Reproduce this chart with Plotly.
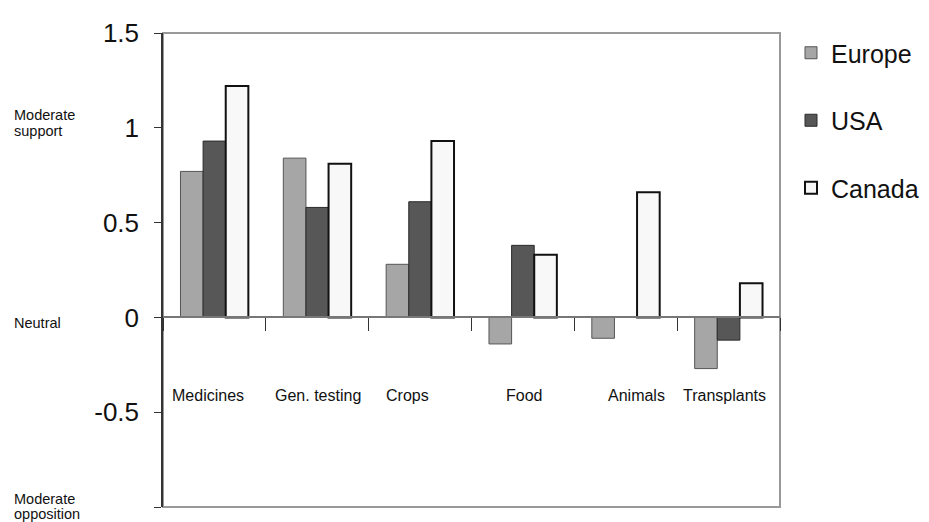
import plotly.graph_objects as go

categories = ["Medicines", "Gen. testing", "Crops", "Food", "Animals", "Transplants"]
europe = [0.77, 0.84, 0.28, -0.14, -0.11, -0.27]
usa = [0.93, 0.58, 0.61, 0.38, None, -0.12]
canada = [1.22, 0.81, 0.93, 0.33, 0.66, 0.18]
label_shift = [-6, 1, -13, 1, 11, -4]
ytick_vals = [-1, -0.5, 0, 0.5, 1, 1.5]
ytick_text = ["-1", "-0.5", "0", "0.5", "1", "1.5"]
side_text = ["Moderate", "support", "Neutral", "Moderate", "opposition"]
side_value = [1, 1, 0, -1, -1]
side_shift = [13, -3, -6, 8.5, -7]

FONT = "Liberation Sans, Arial, sans-serif"

fig = go.Figure()
fig.add_trace(go.Bar(name="Europe", x=categories, y=europe, legendgroup="e",
                     marker=dict(color="#a6a6a6", line=dict(color="#555555", width=1))))
fig.add_trace(go.Bar(name="USA", x=categories, y=usa, legendgroup="u",
                     marker=dict(color="#575757", line=dict(color="#2a2a2a", width=1))))
fig.add_trace(go.Bar(name="Canada", x=categories, y=canada, legendgroup="c",
                     marker=dict(color="#f8f8f8", line=dict(color="#111111", width=2))))

annotations = []
for cat, sh in zip(categories, label_shift):
    annotations.append(dict(x=cat, y=-0.41, xref="x", yref="y", text=cat, showarrow=False,
                            xshift=sh, font=dict(size=16, color="#111", family=FONT)))
for txt, v, sh in zip(side_text, side_value, side_shift):
    annotations.append(dict(x=(12 - 163) / 617, y=v, xref="paper", yref="y", text=txt,
                            showarrow=False, xanchor="left", align="left", yshift=sh,
                            font=dict(size=14.5, color="#111", family=FONT)))

fig.update_layout(
    width=929, height=522,
    margin=dict(l=163, r=149, t=33, b=15, autoexpand=False),
    paper_bgcolor="white", plot_bgcolor="white",
    barmode="group", bargap=0.34, bargroupgap=0,
    font=dict(family=FONT, color="#111"),
    showlegend=True,
    legend=dict(xref="container", yref="container", x=791 / 929, y=1 - 30 / 522,
                xanchor="left", yanchor="top",
                font=dict(size=25, family=FONT, color="#111"),
                tracegroupgap=32, bgcolor="rgba(0,0,0,0)"),
    xaxis=dict(type="category", showticklabels=False, ticks="outside", tickson="boundaries",
               ticklen=13, tickcolor="#333", tickwidth=1.2, showline=True, linecolor="#777",
               linewidth=1.5, anchor="free", position=0.4, showgrid=False, zeroline=False),
    yaxis=dict(range=[-1, 1.5], tickvals=ytick_vals, ticktext=ytick_text, ticks="outside",
               ticklen=7, tickcolor="#333", showline=True, linecolor="#333", linewidth=1.5,
               showgrid=False, zeroline=False, ticklabelstandoff=10, automargin=False,
               tickfont=dict(size=26, family=FONT, color="#111")),
    annotations=annotations,
    shapes=[dict(type="rect", xref="paper", yref="paper", x0=0, x1=1, y0=0, y1=1,
                 line=dict(color="#999", width=2), layer="below")],
)

fig.write_html("out.html", config={"displayModeBar": False},
               post_script="document.body.style.margin='0px';")
